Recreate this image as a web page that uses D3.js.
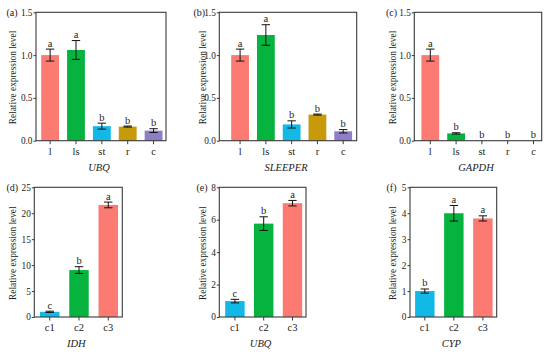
<!DOCTYPE html>
<html><head><meta charset="utf-8">
<script src="https://cdn.jsdelivr.net/npm/d3@7"></script>
<style>body{margin:0;background:#fff}svg{display:block}text{font-family:"Liberation Serif","Times New Roman",Times,serif;fill:#222}</style>
</head><body><svg id="c" width="550" height="353"></svg>
<script>
// ---- data ----
const tissueCats = ["l","ls","st","r","c"];
const stageCats = ["c1","c2","c3"];
const tissueColors = ["#fb7b72","#07b33f","#12b8e6","#c79a0a","#8d7ec6"];
const stageColors = ["#12b8e6","#07b33f","#fb7b72"];

const aVals = [1.0, 1.06, 0.17, 0.165, 0.118];
const aErr  = [0.07, 0.11, 0.035, 0.006, 0.022];
const aSig  = ["a","a","b","b","b"];

const bVals = [1.0, 1.235, 0.19, 0.305, 0.11];
const bErr  = [0.07, 0.12, 0.042, 0.006, 0.02];
const bSig  = ["a","a","b","b","b"];

const cVals = [1.0, 0.085, 0, 0, 0];
const cErr  = [0.07, 0.008, 0, 0, 0];
const cSig  = ["a","b","b","b","b"];

const dVals = [1.0, 9.05, 21.6];
const dErr  = [0.12, 0.65, 0.55];
const dSig  = ["c","b","a"];

const eVals = [0.98, 5.76, 7.02];
const eErr  = [0.11, 0.42, 0.17];
const eSig  = ["c","b","a"];

const fVals = [1.0, 4.0, 3.8];
const fErr  = [0.08, 0.3, 0.1];
const fSig  = ["b","a","a"];

const ticks15 = [0, 0.5, 1.0, 1.5];
const ticksD = [0, 5, 10, 15, 20, 25];
const ticksE = [0, 2, 4, 6, 8];
const ticksF = [0, 1, 2, 3, 4, 5];

const panelLabels = ["(a)","(b)","(c)","(d)","(e)","(f)"];
const geneNames = ["UBQ","SLEEPER","GAPDH","IDH","UBQ","CYP"];
const yTitle = "Relative expression level";

// ---- layout ----
const top1 = 12.3, bot1 = 140.7, top2 = 187.3, bot2 = 317;
const panels = [
  {cats:tissueCats, colors:tissueColors, vals:aVals, err:aErr, sig:aSig, max:1.5, ticks:ticks15, fmt:d3.format(".1f"),
   fx:[36,166], fy:[top1,bot1], band:[41.2,162.5], pad:0.31, titleX:13, labX:6.5},
  {cats:tissueCats, colors:tissueColors, vals:bVals, err:bErr, sig:bSig, max:1.5, ticks:ticks15, fmt:d3.format(".1f"),
   fx:[219.3,356.7], fy:[top1,bot1], band:[231.2,352.1], pad:0.31, titleX:202.7, labX:193.5},
  {cats:tissueCats, colors:tissueColors, vals:cVals, err:cErr, sig:cSig, max:1.5, ticks:ticks15, fmt:d3.format(".1f"),
   fx:[414.3,541.7], fy:[top1,bot1], band:[421.4,542.4], pad:0.31, titleX:392.3, labX:386},
  {cats:stageCats, colors:stageColors, vals:dVals, err:dErr, sig:dSig, max:25, ticks:ticksD, fmt:d3.format("d"),
   fx:[34.3,122.3], fy:[top2,bot2], band:[40,118], pad:0.335, titleX:12.7, labX:6.5},
  {cats:stageCats, colors:stageColors, vals:eVals, err:eErr, sig:eSig, max:8, ticks:ticksE, fmt:d3.format("d"),
   fx:[219.3,306], fy:[top2,bot2], band:[225.2,302.2], pad:0.325, titleX:202.7, labX:196.5},
  {cats:stageCats, colors:stageColors, vals:fVals, err:fErr, sig:fSig, max:5, ticks:ticksF, fmt:d3.format("d"),
   fx:[410,496.7], fy:[top2,bot2], band:[415.1,492.6], pad:0.33, titleX:392.3, labX:386.5}
];

const svg = d3.select("#c");
const axisCol = "#3a3a3a";

panels.forEach((p, i) => {
  const g = svg.append("g");
  const x = d3.scaleBand().domain(p.cats).range(p.band).paddingInner(p.pad).paddingOuter(0);
  const y = d3.scaleLinear().domain([0, p.max]).range([p.fy[1], p.fy[0]]);

  // bars
  g.selectAll("rect.bar").data(p.vals).join("rect")
    .attr("x", (d, k) => x(p.cats[k]))
    .attr("width", x.bandwidth())
    .attr("y", d => y(d))
    .attr("height", d => y(0) - y(d))
    .attr("fill", (d, k) => p.colors[k]);

  // error bars
  const cap = 4.2;
  p.vals.forEach((v, k) => {
    const e = p.err[k];
    if (e <= 0) return;
    const cx = x(p.cats[k]) + x.bandwidth() / 2;
    const y1 = y(v + e), y2 = y(Math.max(0, v - e));
    g.append("line").attr("x1", cx).attr("x2", cx).attr("y1", y1).attr("y2", y2)
      .attr("stroke", "#111").attr("stroke-width", 1);
    [y1, y2].forEach(yy => g.append("line").attr("x1", cx - cap).attr("x2", cx + cap)
      .attr("y1", yy).attr("y2", yy).attr("stroke", "#111").attr("stroke-width", 1));
  });

  // significance letters
  g.selectAll("text.sig").data(p.vals).join("text")
    .attr("x", (d, k) => x(p.cats[k]) + x.bandwidth() / 2)
    .attr("y", (d, k) => y(d + p.err[k]) - 2.5)
    .attr("text-anchor", "middle").attr("font-size", 10.5)
    .text((d, k) => p.sig[k]);

  // frame
  g.append("rect").attr("x", p.fx[0]).attr("y", p.fy[0])
    .attr("width", p.fx[1] - p.fx[0]).attr("height", p.fy[1] - p.fy[0])
    .attr("fill", "none").attr("stroke", axisCol).attr("stroke-width", 1.1);

  // y axis
  const ya = g.append("g").attr("transform", `translate(${p.fx[0]},0)`)
    .call(d3.axisLeft(y).tickValues(p.ticks).tickFormat(p.fmt).tickSize(2.5).tickPadding(1));
  ya.select(".domain").remove();
  ya.selectAll("line").attr("stroke", axisCol);
  ya.selectAll("text").attr("font-size", 9.3).attr("font-family", "Liberation Serif").attr("fill", "#222");

  // x axis
  const xa = g.append("g").attr("transform", `translate(0,${p.fy[1]})`)
    .call(d3.axisBottom(x).tickSize(3.5).tickPadding(3));
  xa.select(".domain").remove();
  xa.selectAll("line").attr("stroke", axisCol);
  xa.selectAll("text").attr("font-size", 10.5).attr("font-family", "Liberation Serif").attr("fill", "#222");

  // gene title
  g.append("text").attr("x", (p.fx[0] + p.fx[1]) / 2 - 2).attr("y", p.fy[1] + 30)
    .attr("text-anchor", "middle").attr("font-size", 10.5).attr("font-style", "italic")
    .text(geneNames[i]);

  // y title
  g.append("text").attr("transform", `translate(${p.titleX + 3.3},${(p.fy[0] + p.fy[1]) / 2 + 1}) rotate(-90)`)
    .attr("text-anchor", "middle").attr("font-size", 9.3).text(yTitle);

  // panel label
  g.append("text").attr("x", p.labX).attr("y", p.fy[0] + 3.5)
    .attr("font-size", 10).text(panelLabels[i]);
});
</script></body></html>
